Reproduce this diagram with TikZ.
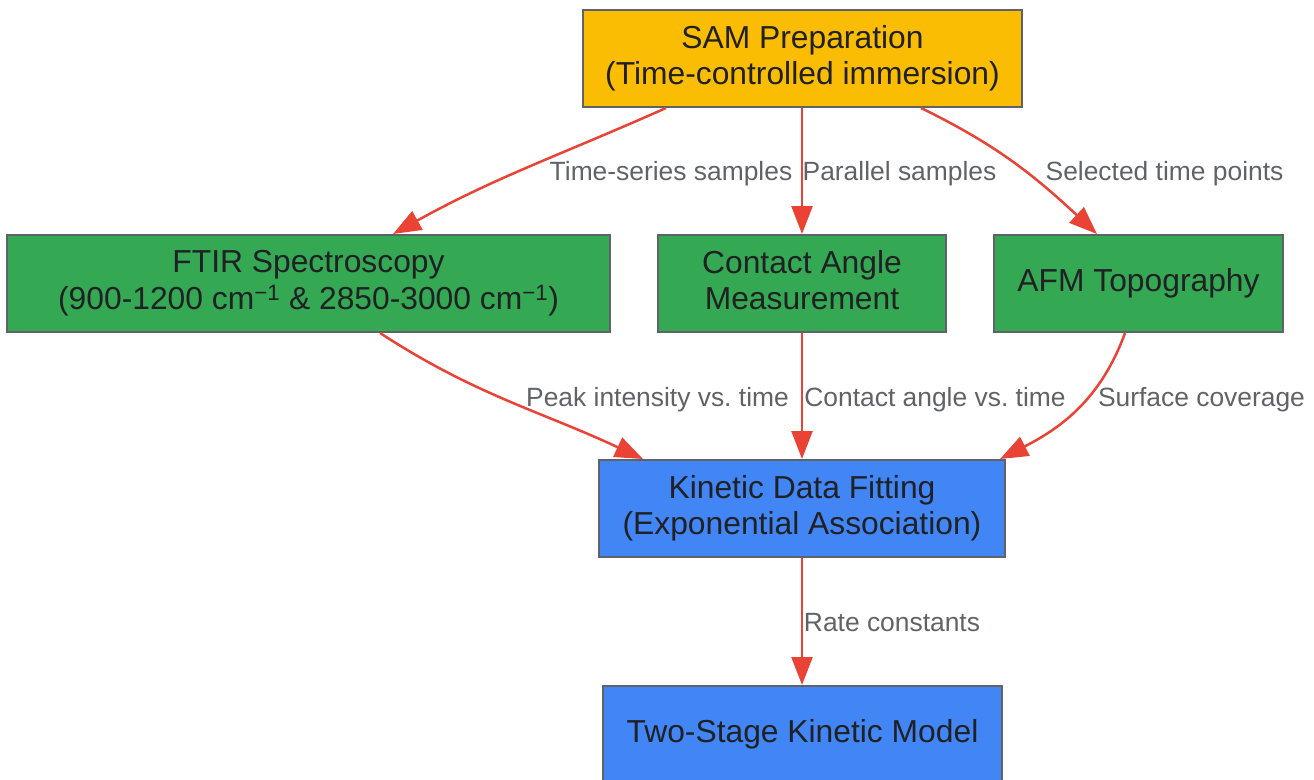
\documentclass[tikz,border=0pt]{standalone}
\usepackage{fontspec}
\setmainfont{Liberation Sans}
\usetikzlibrary{arrows.meta,calc}
\frenchspacing
\definecolor{samyellow}{HTML}{FBBC04}
\definecolor{measgreen}{HTML}{34A853}
\definecolor{modelblue}{HTML}{4285F4}
\definecolor{edgered}{HTML}{EA4335}
\definecolor{bordergray}{HTML}{5F6368}
\definecolor{textdark}{HTML}{202124}
\definecolor{labelgray}{HTML}{5F6368}
\newcommand{\nst}{\rule[-7pt]{0pt}{28.8pt}}
\tikzset{
  box/.style={draw=bordergray, line width=2pt, minimum height=97pt, inner sep=0pt,
    align=center, text=textdark, font=\fontsize{31.8}{36.8}\selectfont},
  lbl/.style={text=labelgray, font=\fontsize{26.4}{30}\selectfont\frenchspacing, inner sep=0pt, anchor=base},
  conn/.style={draw=edgered, line width=2.5pt, -{Triangle[length=28pt,width=21pt]}}
}
\begin{document}
\begin{tikzpicture}[x=1pt,y=1pt]
\useasboundingbox (0,0) rectangle (1314,-779);
\node[box, fill=samyellow, minimum width=439pt] (sam) at (802.5,-58.5) {\nst SAM Preparation\\\nst(Time-controlled immersion)};
\node[box, fill=measgreen, minimum width=603pt] (ftir) at (308.5,-283.5) {\nst FTIR Spectroscopy\\\nst(900-1200 cm\textsuperscript{\char"2212 1} \& 2850-3000 cm\textsuperscript{\char"2212 1})};
\node[box, fill=measgreen, minimum width=288pt] (contact) at (802,-283.5) {\nst Contact Angle\\\nst Measurement};
\node[box, fill=measgreen, minimum width=289pt] (afm) at (1138.5,-283.5) {\nst AFM Topography};
\node[box, fill=modelblue, minimum width=406pt] (kin) at (802,-508.5) {\nst Kinetic Data Fitting\\\nst(Exponential Association)};
\node[box, fill=modelblue, minimum width=399pt] (two) at (802.5,-734.5) {\nst Two-Stage Kinetic Model};

\draw[conn] ([xshift=-136.5pt]sam.south) to[out=-156,in=29] ([xshift=84.5pt]ftir.north);
\draw[conn] (sam.south -| contact.north) -- (contact.north);
\draw[conn] ([xshift=118.5pt]sam.south) to[out=-26,in=137] ([xshift=-41.5pt]afm.north);
\draw[conn] ([xshift=71.5pt]ftir.south) to[out=-33,in=155] ([xshift=-159pt]kin.north);
\draw[conn] (contact.south) -- (kin.north);
\draw[conn] ([xshift=-13.5pt]afm.south) to[out=-110,in=27] ([xshift=198pt]kin.north);
\draw[conn] (kin.south) -- (two.north -| kin.south);

\node[lbl] (l1) at (671,-180) {Time-series samples};
\node[lbl] (l2) at (899.5,-180) {Parallel samples};
\node[lbl] (l3) at (1164.5,-180) {Selected time points};
\node[lbl] (l4) at (657.5,-406) {Peak intensity vs. time};
\node[lbl] (l5) at (935,-406) {Contact angle vs. time};
\node[lbl] (l6) at (1201.5,-406) {Surface coverage};
\node[lbl] (l7) at (892,-631) {Rate constants};
\end{tikzpicture}
\end{document}
